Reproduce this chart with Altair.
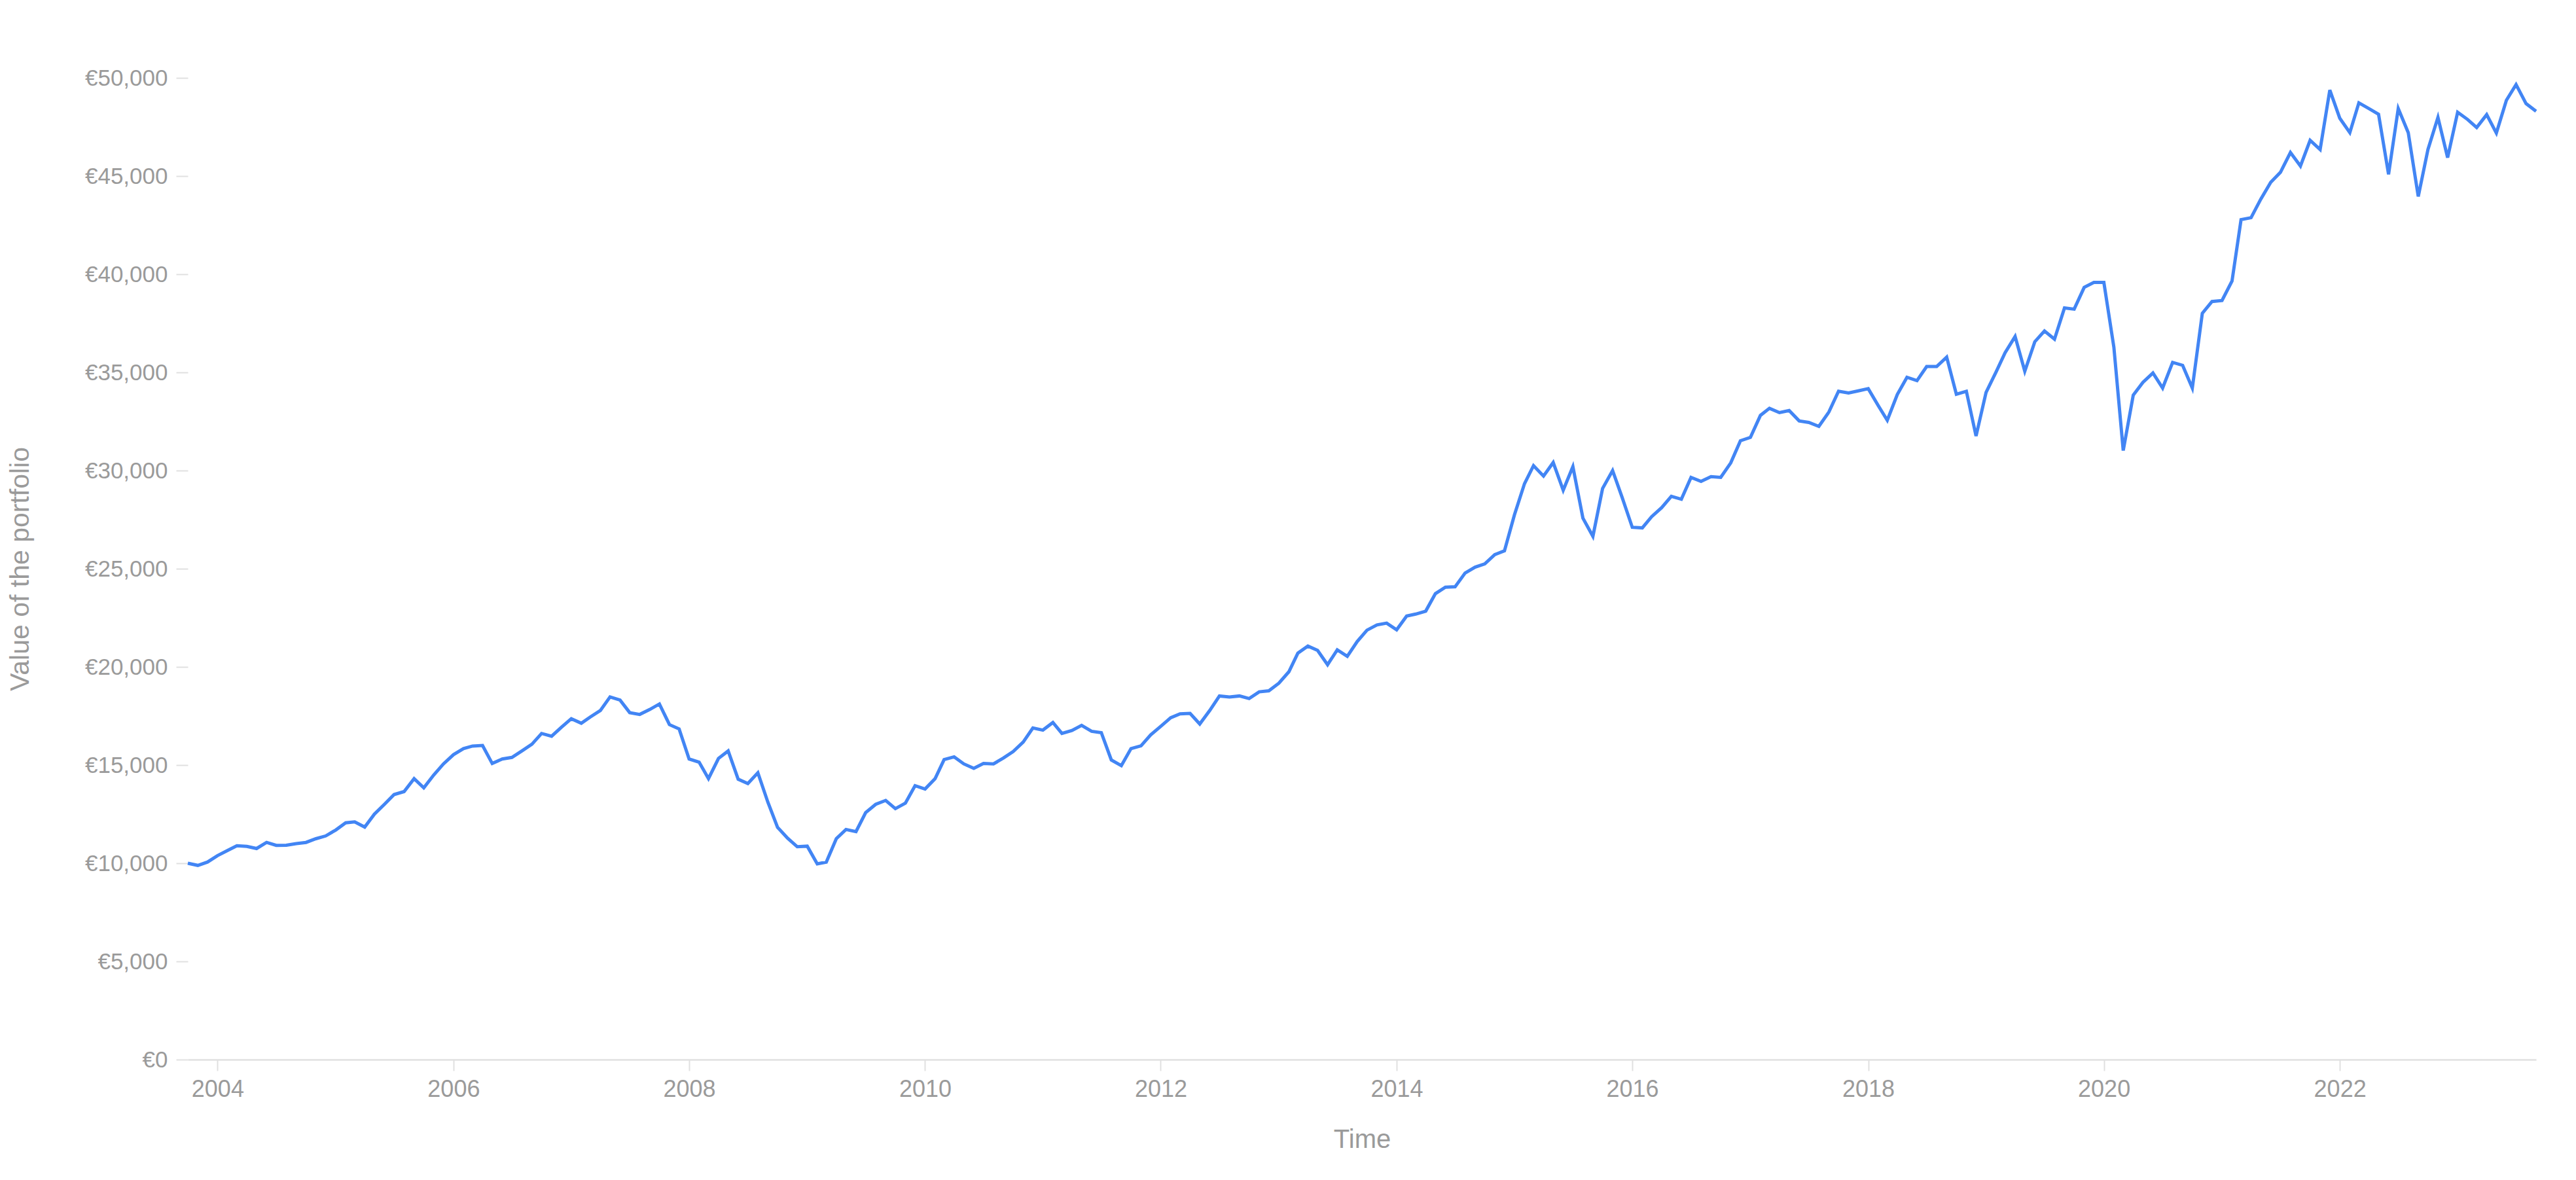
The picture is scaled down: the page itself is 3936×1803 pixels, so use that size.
import altair as alt
import pandas as pd

# Monthly portfolio values, Oct 2003 .. Sep 2023
start_month = "2003-10-01"
values = [
    # 2003 (Oct-Dec)
    10000, 9890, 10060,
    # 2004
    10390, 10650, 10890, 10860, 10750, 11060, 10910, 10920, 11000, 11060, 11250, 11390,
    # 2005
    11690, 12060, 12110, 11840, 12500, 13000, 13500, 13650, 14310, 13840, 14500, 15060,
    # 2006
    15530, 15840, 15970, 16000, 15080, 15310, 15390, 15720, 16060, 16610, 16470, 16920,
    # 2007
    17360, 17130, 17450, 17780, 18470, 18310, 17670, 17580, 17830, 18110, 17060, 16840,
    # 2008
    15310, 15150, 14310, 15340, 15720, 14280, 14060, 14610, 13110, 11830, 11280, 10840,
    # 2009
    10870, 9970, 10060, 11250, 11720, 11610, 12580, 13000, 13200, 12780, 13060, 13950,
    # 2010
    13780, 14310, 15280, 15420, 15060, 14830, 15080, 15060, 15360, 15690, 16170, 16890,
    # 2011
    16780, 17170, 16610, 16760, 17020, 16720, 16650, 15260, 14970, 15840, 15980, 16540,
    # 2012
    16970, 17410, 17610, 17630, 17090, 17780, 18520, 18470, 18520, 18390, 18730, 18780,
    # 2013
    19170, 19750, 20700, 21060, 20840, 20110, 20870, 20540, 21300, 21870, 22140, 22230,
    # 2014
    21890, 22590, 22690, 22840, 23730, 24060, 24080, 24780, 25080, 25250, 25720, 25910,
    # 2015
    27750, 29330, 30250, 29720, 30410, 29000, 30200, 27580, 26650, 29090, 30000, 28610,
    # 2016
    27110, 27080, 27650, 28110, 28690, 28540, 29650, 29450, 29690, 29650, 30390, 31520,
    # 2017
    31690, 32810, 33170, 32950, 33060, 32530, 32450, 32250, 32980, 34040, 33950, 34060,
    # 2018
    34170, 33310, 32560, 33870, 34750, 34580, 35300, 35300, 35780, 33890, 34040, 31760,
    # 2019
    33980, 35020, 36000, 36830, 35060, 36560, 37110, 36690, 38280, 38220, 39330, 39580,
    # 2020
    39580, 36280, 31020, 33840, 34490, 34970, 34200, 35510, 35360, 34200, 38010, 38610,
    # 2021
    38660, 39650, 42780, 42880, 43820, 44680, 45190, 46200, 45510, 46820, 46350, 49380,
    # 2022
    47940, 47210, 48730, 48440, 48150, 45090, 48440, 47210, 43960, 46350, 47990, 45940,
    # 2023 (Jan-Sep)
    48250, 47880, 47470, 48130, 47190, 48860, 49660, 48690, 48300,
]
y_ticks = list(range(0, 50001, 5000))

dates = pd.date_range(start_month, periods=len(values), freq="MS").strftime("%Y-%m-%d")
df = pd.DataFrame({"date": dates, "value": values})

FONT = "Liberation Sans"
GRAY = "#9a9a9a"
LIGHT = "#e0e0e0"

chart = (
    alt.Chart(df)
    .mark_line(color="#4285F4", strokeWidth=5, strokeJoin="miter")
    .encode(
        x=alt.X(
            "date:T",
            title="Time",
            scale=alt.Scale(type="utc", nice=False, padding=0),
            axis=alt.Axis(
                tickCount={"interval": "year", "step": 2},
                format="%Y",
                grid=False,
                domain=True,
                domainColor=LIGHT,
                domainWidth=2.5,
                ticks=True,
                tickColor=LIGHT,
                tickWidth=2,
                tickSize=17,
                labelPadding=11,
                labelFont=FONT,
                labelFontSize=36,
                labelColor=GRAY,
                titleFont=FONT,
                titleFontSize=40,
                titleFontWeight="normal",
                titleColor=GRAY,
                titleBaseline="top",
                titleY=102,
            ),
        ),
        y=alt.Y(
            "value:Q",
            title="Value of the portfolio",
            scale=alt.Scale(domain=[0, 50000], nice=False, zero=True),
            axis=alt.Axis(
                values=y_ticks,
                labelExpr="'€' + format(datum.value, ',')",
                grid=False,
                domain=False,
                ticks=True,
                tickColor=LIGHT,
                tickWidth=2,
                tickSize=18,
                labelPadding=13,
                labelFont=FONT,
                labelFontSize=35,
                labelColor=GRAY,
                titleFont=FONT,
                titleFontSize=41,
                titleFontWeight="normal",
                titleColor=GRAY,
                titleBaseline="bottom",
                titleX=-235,
            ),
        ),
    )
    .properties(
        width=3588,
        height=1500,
        autosize=alt.AutoSizeParams(type="none"),
        padding={"left": 279, "top": 111, "right": 40, "bottom": 160},
        background="white",
    )
    .configure_view(stroke=None)
)

chart.save("out.html", embed_options={"renderer": "svg", "actions": False})
